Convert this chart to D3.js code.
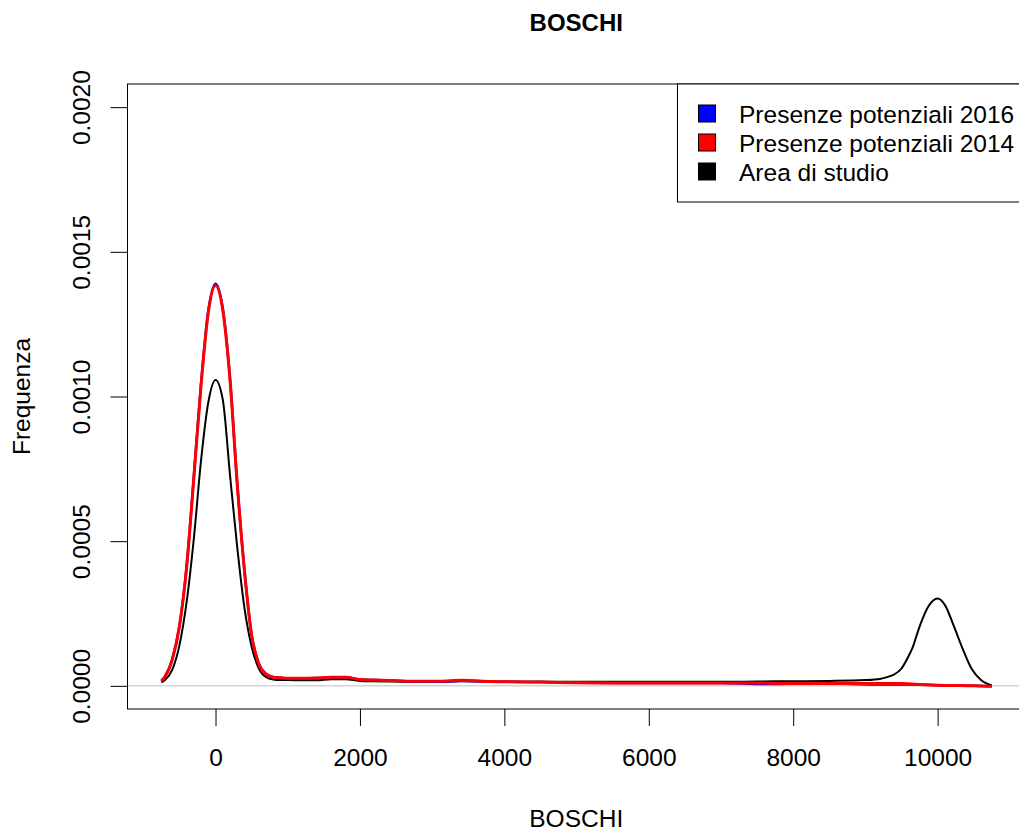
<!DOCTYPE html>
<html>
<head>
<meta charset="utf-8">
<script src="https://cdn.jsdelivr.net/npm/d3@7"></script>
<style>
html,body{margin:0;padding:0;background:#fff;}
svg{display:block;font-family:"Liberation Sans",Arial,sans-serif;}
</style>
</head>
<body>
<svg id="chart" width="1019" height="834"></svg>
<script>
// ---- data ----
const title = "BOSCHI";
const xLabel = "BOSCHI";
const yLabel = "Frequenza";
const xTicks = [0, 2000, 4000, 6000, 8000, 10000];
const yTicks = [0, 0.0005, 0.0010, 0.0015, 0.0020];
const yTickLabels = ["0.0000", "0.0005", "0.0010", "0.0015", "0.0020"];

const legendLabels = ["Presenze potenziali 2016", "Presenze potenziali 2014", "Area di studio"];
const legendColors = ["#0000ff", "#ff0000", "#000000"];

// x positions of the density estimates
const studyX = [-750,-700,-600,-500,-400,-300,-200,-100,0,100,200,300,400,500,600,700,800,900,
  1000,1200,1400,1600,1800,2000,2200,2500,2800,3100,3400,3700,4000,4500,5000,5500,6000,6500,7000,7500,
  8000,8500,9000,9200,9300,9400,9500,9575,9650,9750,9875,10000,10100,10225,10350,10475,10600,10750];
const studyY = [0.000012,0.000020,0.000055,0.000140,0.000290,0.000510,0.000780,0.000980,0.001057,0.000990,0.000730,0.000480,0.000270,0.000135,0.000060,0.000030,0.000022,0.000020,
  0.000020,0.000019,0.000019,0.000023,0.000023,0.000017,0.000016,0.000015,0.000014,0.000014,0.000016,0.000015,0.000014,0.000014,0.000014,0.000014,0.000014,0.000014,0.000014,0.000015,
  0.000016,0.000017,0.000020,0.000024,0.000030,0.000040,0.000060,0.000092,0.000130,0.000205,0.000276,0.000302,0.000280,0.000206,0.000126,0.000057,0.000020,0.000001];

const p2014X = [-750,-700,-600,-500,-400,-300,-200,-100,0,100,200,300,400,500,600,700,800,900,
  1000,1200,1400,1600,1800,2000,2200,2500,2800,3100,3400,3700,4000,4500,5000,5500,6000,6500,7000,7500,
  8000,8500,9000,9500,9800,10000,10300,10500,10750];
const p2014Y = [0.000017,0.000032,0.000090,0.000205,0.000410,0.000720,0.001040,0.001290,0.001384,0.001300,0.001060,0.000700,0.000400,0.000175,0.000075,0.000040,0.000030,0.000028,
  0.000026,0.000026,0.000027,0.000030,0.000030,0.000022,0.000020,0.000018,0.000016,0.000016,0.000019,0.000016,0.000014,0.000013,0.000011,0.000010,0.000010,0.000010,0.000010,0.000010,
  0.000008,0.000008,0.000008,0.000008,0.000004,0.000002,0.000001,0.000000,-0.000001];

const p2016X = [-750,-700,-600,-500,-400,-300,-200,-100,0,100,200,300,400,500,600,700,800,900,
  1000,1200,1400,1600,1800,2000,2200,2500,2800,3100,3400,3700,4000,4500,5000,5500,6000,6500,7000,7600,
  7800,8000,8500,9150,9700,10000,10300,10500,10750];
const p2016Y = [0.000017,0.000032,0.000091,0.000207,0.000413,0.000725,0.001046,0.001297,0.001390,0.001305,0.001063,0.000702,0.000401,0.000176,0.000076,0.000041,0.000030,0.000028,
  0.000026,0.000026,0.000027,0.000030,0.000030,0.000022,0.000020,0.000018,0.000014,0.000014,0.000018,0.000016,0.000014,0.000013,0.000011,0.000010,0.000010,0.000010,0.000010,0.000006,
  0.000006,0.000008,0.000008,0.000005,0.000005,0.000002,0.000001,0.000000,-0.000001];

// ---- layout ----
const L = 127.5, R = 1025, T = 84, B = 709;
const FS = "24.5px";
const svg = d3.select("#chart");

const x = d3.scaleLinear().domain([-1219, 11210]).range([L, R]);
const y = d3.scaleLinear().domain([-0.00008, 0.00208]).range([B, T]);

// zero line
svg.append("line")
  .attr("x1", L).attr("x2", R)
  .attr("y1", y(0)).attr("y2", y(0))
  .attr("stroke", "#bebebe").attr("stroke-width", 1);

const line = d3.line().x(d => x(d[0])).y(d => y(d[1])).curve(d3.curveMonotoneX);
const zip = (a, b) => a.map((v, i) => [v, b[i]]);

svg.append("clipPath").attr("id", "clip").append("rect")
  .attr("x", L).attr("y", T).attr("width", R - L).attr("height", B - T);
const plot = svg.append("g").attr("clip-path", "url(#clip)");

plot.append("path").datum(zip(studyX, studyY)).attr("d", line)
  .attr("fill", "none").attr("stroke", "#000").attr("stroke-width", 2).attr("stroke-linejoin", "round");
plot.append("path").datum(zip(p2016X, p2016Y)).attr("d", line)
  .attr("fill", "none").attr("stroke", "#0000ff").attr("stroke-width", 2.5).attr("stroke-linejoin", "round");
plot.append("path").datum(zip(p2014X, p2014Y)).attr("d", line)
  .attr("fill", "none").attr("stroke", "#ff0000").attr("stroke-width", 3).attr("stroke-linejoin", "round");

// box
svg.append("rect")
  .attr("x", L).attr("y", T).attr("width", R - L).attr("height", B - T)
  .attr("fill", "none").attr("stroke", "#000").attr("stroke-width", 1);

// x axis
const gx = svg.append("g").attr("transform", `translate(0,${B})`)
  .call(d3.axisBottom(x).tickValues(xTicks).tickFormat(d3.format("d")).tickSize(17));
gx.select(".domain").remove();
gx.selectAll(".tick line").attr("stroke", "#000");
gx.selectAll("text").attr("y", 56.5).attr("dy", 0)
  .style("font-size", FS).style("font-family", "Liberation Sans, Arial, sans-serif").attr("fill", "#000");

// y axis
const gy = svg.append("g").attr("transform", `translate(${L},0)`)
  .call(d3.axisLeft(y).tickValues(yTicks).tickFormat((d, i) => yTickLabels[i]).tickSize(17));
gy.select(".domain").remove();
gy.selectAll(".tick line").attr("stroke", "#000");
gy.selectAll("text")
  .attr("transform", "rotate(-90)")
  .attr("x", 0).attr("y", -37.5).attr("dy", 0)
  .style("text-anchor", "middle")
  .style("font-size", FS).style("font-family", "Liberation Sans, Arial, sans-serif").attr("fill", "#000");

// titles
const cx = (L + R) / 2;
svg.append("text").attr("x", cx).attr("y", 31).attr("text-anchor", "middle")
  .style("font-size", "24px").style("font-weight", "bold").text(title);
svg.append("text").attr("x", cx).attr("y", 827).attr("text-anchor", "middle")
  .style("font-size", FS).text(xLabel);
svg.append("text").attr("transform", `translate(29.5,${(T + B) / 2}) rotate(-90)`)
  .attr("text-anchor", "middle").style("font-size", FS).text(yLabel);

// legend
const lg = svg.append("g");
lg.append("rect").attr("x", 677.5).attr("y", T).attr("width", R - 677.5).attr("height", 118)
  .attr("fill", "#fff").attr("stroke", "#000").attr("stroke-width", 1);
legendLabels.forEach((lab, i) => {
  const cy = 114 + i * 29;
  lg.append("rect").attr("x", 698.5).attr("y", cy - 9).attr("width", 17).attr("height", 17)
    .attr("fill", legendColors[i]).attr("stroke", "#000").attr("stroke-width", 1);
  lg.append("text").attr("x", 739).attr("y", cy + 9).style("font-size", FS).text(lab);
});
</script>
</body>
</html>
